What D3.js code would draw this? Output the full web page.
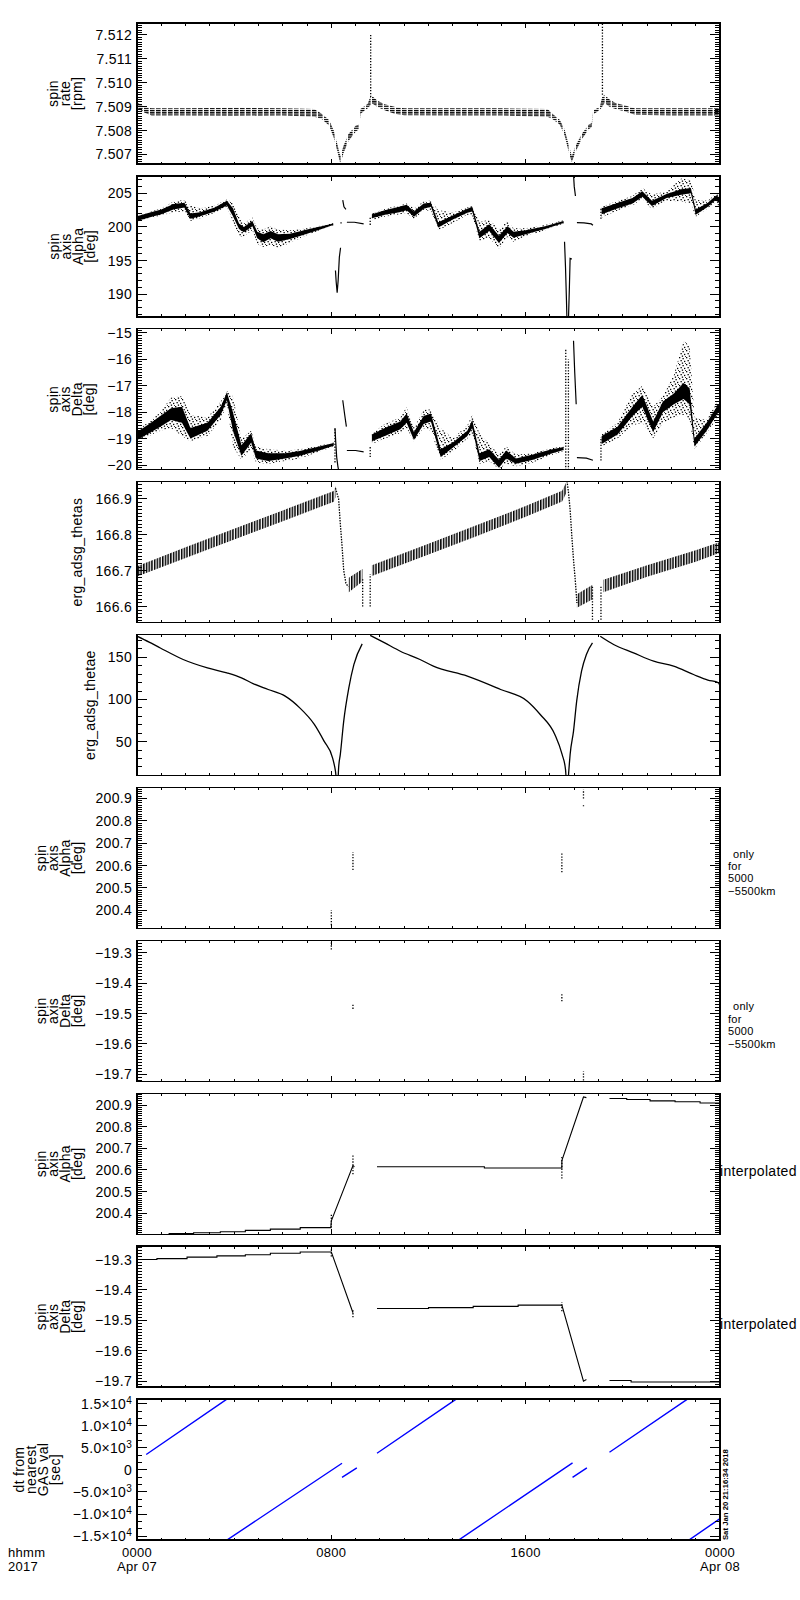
<!DOCTYPE html>
<html>
<head>
<meta charset="utf-8">
<script src="https://cdn.jsdelivr.net/npm/d3@7"></script>
<style>
body { margin: 0; background: #fff; }
svg { display: block; }
</style>
</head>
<body>
<svg id="chart" width="800" height="1600"></svg>
<script>
// time is in hours after 2017-04-07 0000 UT
var xTickHours = [0, 8, 16, 24];
var xTickTime = ["0000", "0800", "1600", "0000"];
var xTickDate = ["Apr 07", "", "", "Apr 08"];

// SPIN RATE [rpm] - envelope of the quantized points
var rateT  = [0, 0.3, 0.6, 2, 4, 6, 7.3, 7.6, 7.9, 8.1, 8.25, 8.37, 8.5, 8.7, 9.0, 9.15, 9.2, 9.5, 9.6, 9.7, 9.9, 10.2, 10.6, 11, 13, 15, 16.9, 17.1, 17.4, 17.6, 17.8, 17.9, 18.05, 18.3, 18.6, 18.72, 18.78, 19.05, 19.15, 19.25, 19.45, 19.7, 20.1, 20.5, 22, 24];
var rateLo = [7.50895, 7.50875, 7.50863, 7.50863, 7.50862, 7.50863, 7.50858, 7.50848, 7.50822, 7.50770, 7.50712, 7.50662, 7.50705, 7.50755, 7.50795, 7.50806, 7.50870, 7.50893, 7.50905, 7.50912, 7.50898, 7.50885, 7.50870, 7.50864, 7.50863, 7.50863, 7.50858, 7.50848, 7.50825, 7.50780, 7.50700, 7.50668, 7.50710, 7.50762, 7.50805, 7.50815, 7.50868, 7.50885, 7.50900, 7.50915, 7.50900, 7.50890, 7.50880, 7.50866, 7.50863, 7.50863];
var rateHi = [7.50918, 7.50900, 7.50893, 7.50893, 7.50895, 7.50893, 7.50890, 7.50870, 7.50845, 7.50800, 7.50742, 7.50692, 7.50735, 7.50785, 7.50820, 7.50825, 7.50890, 7.50912, 7.50940, 7.50942, 7.50925, 7.50910, 7.50900, 7.50893, 7.50893, 7.50893, 7.50890, 7.50870, 7.50845, 7.50805, 7.50730, 7.50692, 7.50735, 7.50785, 7.50825, 7.50830, 7.50885, 7.50898, 7.50940, 7.50950, 7.50930, 7.50915, 7.50905, 7.50893, 7.50893, 7.50893];
var rateSpikeT  = [9.62, 19.16];
var rateSpikeLo = [7.5094, 7.5095];
var rateSpikeHi = [7.5120, 7.5126];

// SPIN AXIS ALPHA [deg] - dense core and scattered points
var alphaT      = [0, 0.5, 1.0, 1.5, 1.95, 2.2, 2.6, 3.2, 3.7, 3.95, 4.2, 4.4, 4.75, 4.95, 5.2, 5.5, 5.8, 6.3, 7.0, 7.6, 8.08, null,
                   9.67, 10.2, 10.8, 11.1, 11.4, 11.8, 12.1, 12.4, 13.0, 13.6, 13.8, 14.1, 14.5, 14.9, 15.25, 15.5, 16.0, 16.8, 17.56, null,
                   19.13, 19.8, 20.4, 20.8, 21.2, 21.8, 22.4, 22.8, 23.0, 23.5, 23.85, 24];
var alphaCoreLo = [200.9, 201.4, 201.9, 202.6, 202.9, 201.2, 201.6, 202.3, 203.2, 201.6, 199.7, 199.2, 200.1, 198.3, 197.7, 198.3, 197.8, 198.2, 199.0, 199.7, 200.3, null,
                   201.3, 201.8, 202.2, 202.5, 201.5, 202.7, 203.0, 199.9, 201.1, 202.1, 202.3, 198.3, 199.4, 197.6, 199.1, 198.4, 198.9, 199.7, 200.6, null,
                   201.9, 202.8, 203.5, 204.5, 203.1, 204.3, 204.8, 205.0, 201.8, 203.0, 204.1, 203.3];
var alphaCoreHi = [201.6, 202.1, 202.6, 203.4, 203.6, 202.0, 202.2, 202.9, 203.9, 202.8, 200.5, 200.0, 200.9, 199.3, 198.9, 199.4, 198.9, 199.0, 199.6, 200.1, 200.5, null,
                   201.9, 202.5, 203.0, 203.3, 202.3, 203.5, 203.6, 200.7, 201.7, 202.7, 203.0, 199.3, 200.4, 198.7, 200.1, 199.3, 199.5, 200.1, 200.9, null,
                   202.8, 203.6, 204.3, 205.3, 203.9, 204.9, 205.6, 205.8, 202.6, 203.6, 204.7, 204.3];
var alphaScatLo = [200.8, 201.3, 201.7, 202.2, 202.3, 200.9, 201.3, 202.1, 203.0, 200.8, 198.5, 198.6, 199.5, 197.5, 197.0, 197.3, 196.9, 197.6, 198.8, 199.6, 200.2, null,
                   201.0, 201.5, 201.9, 202.0, 201.2, 202.4, 202.5, 199.5, 200.6, 201.8, 201.7, 197.9, 198.4, 196.8, 198.5, 197.8, 198.6, 199.5, 200.5, null,
                   201.4, 202.5, 203.2, 204.2, 202.6, 203.9, 203.8, 203.5, 201.5, 202.8, 203.8, 202.5];
var alphaScatHi = [201.7, 202.2, 202.8, 203.8, 204.0, 203.2, 202.8, 203.2, 204.1, 203.6, 201.5, 200.5, 201.4, 199.8, 199.6, 200.1, 199.6, 199.5, 199.8, 200.2, 200.6, null,
                   202.0, 202.7, 203.2, 203.5, 202.8, 203.8, 204.0, 202.5, 202.2, 202.9, 203.1, 200.7, 201.1, 199.6, 200.9, 199.8, 199.8, 200.3, 201.0, null,
                   203.0, 203.9, 204.6, 205.8, 204.8, 205.3, 207.2, 207.0, 204.0, 203.9, 205.0, 204.5];
var alphaLineT = [8.17, 8.2, 8.24, 8.28, 8.33, 8.38, null, 8.47, 8.52, 8.6, null, 8.64, 8.95, 9.33, null,
                  17.6, 17.64, 17.68, 17.7, 17.76, 17.8, 17.83, 17.9, null, 17.97, 18.0, 18.05, null, 18.11, 18.4, 18.7, 18.77];
var alphaLineV = [193.5, 191.8, 190.2, 192.0, 195.5, 196.9, null, 204.0, 203.0, 202.6, null, 200.7, 200.7, 200.45, null,
                  197.8, 194.0, 189.0, 186.0, 186.0, 191.0, 195.3, 195.2, null, 207.8, 206.0, 204.6, null, 200.65, 200.6, 200.45, 200.25];
var alphaDotT  = [9.6, 19.1, 8.4];
var alphaDotLo = [200.3, 201.2, 200.5];
var alphaDotHi = [201.6, 202.7, 200.9];

// SPIN AXIS DELTA [deg]
var deltaT      = [0, 0.5, 0.96, 1.4, 1.85, 2.2, 2.9, 3.45, 3.7, 3.95, 4.3, 4.7, 4.9, 5.4, 6.1, 6.7, 7.5, 8.1, null,
                   9.67, 10.2, 10.84, 11.1, 11.4, 11.8, 12.1, 12.5, 13.0, 13.6, 13.8, 14.1, 14.5, 14.9, 15.2, 15.6, 16.3, 17.0, 17.56, null,
                   19.13, 19.78, 20.4, 20.8, 21.25, 21.65, 22.1, 22.5, 22.75, 22.95, 23.45, 23.9, 24];
var deltaCoreLo = [-19.05, -18.8, -18.55, -18.3, -18.4, -19.0, -18.7, -18.1, -17.55, -18.7, -19.65, -19.15, -19.75, -19.85, -19.75, -19.65, -19.45, -19.27, null,
                   -19.1, -18.9, -18.65, -18.4, -19.05, -18.45, -18.35, -19.7, -19.35, -18.9, -18.6, -19.85, -19.7, -20.1, -19.75, -19.95, -19.8, -19.58, -19.43, null,
                   -19.2, -18.85, -18.15, -17.8, -18.75, -18.0, -17.7, -17.5, -17.7, -19.3, -18.7, -18.05, -18.0];
var deltaCoreHi = [-18.75, -18.45, -18.15, -17.85, -17.8, -18.6, -18.4, -17.8, -17.25, -18.0, -19.25, -18.8, -19.45, -19.55, -19.55, -19.47, -19.3, -19.17, null,
                   -18.85, -18.6, -18.35, -18.05, -18.75, -18.15, -18.05, -19.4, -19.15, -18.7, -18.3, -19.55, -19.4, -19.8, -19.45, -19.75, -19.6, -19.42, -19.32, null,
                   -18.9, -18.55, -17.8, -17.35, -18.35, -17.6, -17.3, -16.9, -17.1, -19.0, -18.4, -17.75, -17.7];
var deltaScatLo = [-19.1, -18.9, -18.7, -18.6, -18.9, -19.1, -18.9, -18.3, -17.7, -19.3, -19.8, -19.4, -19.9, -19.95, -19.85, -19.75, -19.5, -19.3, null,
                   -19.2, -19.0, -18.8, -18.6, -19.1, -18.6, -18.7, -19.8, -19.5, -19.0, -18.8, -19.95, -19.85, -20.15, -19.95, -20.05, -19.9, -19.65, -19.47, null,
                   -19.3, -19.0, -18.5, -18.4, -19.0, -18.4, -18.2, -18.1, -18.3, -19.4, -18.8, -18.2, -18.3];
var deltaScatHi = [-18.7, -18.35, -18.0, -17.45, -17.4, -18.1, -18.2, -17.6, -17.2, -17.4, -19.0, -18.7, -19.3, -19.4, -19.45, -19.4, -19.27, -19.15, null,
                   -18.8, -18.45, -18.2, -17.8, -18.6, -17.9, -17.9, -18.6, -19.0, -18.5, -18.1, -18.8, -19.2, -19.6, -19.3, -19.6, -19.55, -19.37, -19.3, null,
                   -18.85, -18.4, -17.3, -17.0, -17.8, -17.4, -16.6, -15.3, -15.5, -18.2, -18.3, -17.6, -17.6];
var deltaLineT = [8.15, 8.18, 8.22, 8.27, 8.32, null, 8.47, 8.55, 8.62, null, 8.64, 9.0, 9.33, null,
                  17.97, 18.02, 18.08, null, 18.11, 18.5, 18.77];
var deltaLineV = [-18.6, -19.1, -19.7, -20.05, -20.3, null, -17.55, -18.1, -18.55, null, -19.45, -19.45, -19.5, null,
                  -15.3, -16.5, -17.7, null, -19.72, -19.74, -19.82];
var deltaDotT  = [9.6, 19.1, 8.15, 17.65, 17.76];
var deltaDotLo = [-19.7, -19.83, -19.9, -20.3, -20.3];
var deltaDotHi = [-19.32, -18.94, -18.6, -15.6, -16.0];

// ERG_ADSG_THETAS - band of the fast sawtooth
var thetasT  = [0, 2, 4, 6, 8.1, 8.17, null, 8.72, 9.28, null, 9.67, 12, 14, 16, 17.5, 17.7, null, 18.11, 18.74, null, 19.2, 21, 23, 24];
var thetasLo = [166.684, 166.735, 166.787, 166.838, 166.892, 166.905, null, 166.64, 166.67, null, 166.685, 166.745, 166.797, 166.85, 166.893, 166.92, null, 166.597, 166.62, null, 166.64, 166.683, 166.725, 166.75];
var thetasHi = [166.712, 166.765, 166.817, 166.868, 166.922, 166.935, null, 166.68, 166.705, null, 166.715, 166.775, 166.827, 166.88, 166.923, 166.95, null, 166.634, 166.66, null, 166.675, 166.715, 166.757, 166.78];
var thetasDropT = [8.17, 8.3, 8.37, 8.44, 8.51, 8.6, 8.7, null, 17.7, 17.76, 17.83, 17.9, 17.97, 18.04, 18.11];
var thetasDropV = [166.93, 166.9, 166.83, 166.77, 166.70, 166.665, 166.655, null, 166.95, 166.92, 166.87, 166.796, 166.73, 166.675, 166.61];
var thetasDotT  = [9.29, 9.6, 18.75, 19.1];
var thetasDotLo = [166.6, 166.6, 166.563, 166.563];
var thetasDotHi = [166.68, 166.69, 166.66, 166.66];

// ERG_ADSG_THETAE
var thetaeT = [0, 0.5, 0.96, 1.9, 2.9, 3.7, 4.3, 4.8, 5.4, 6.1, 6.7, 7.3, 7.7, 8.05, 8.17, 8.22, 8.27, 8.3, 8.37, 8.51, 8.72, 8.93, 9.27, null,
               9.6, 10.2, 10.84, 11.65, 12.2, 13.6, 14.97, 16.07, 16.6, 17.2, 17.5, 17.64, 17.68, 17.74, 17.78, 17.83, 17.97, 18.1, 18.3, 18.5, 18.75, null,
               19.07, 19.62, 20.44, 21.27, 22.09, 22.91, 23.5, 23.94, 24];
var thetaeV = [175, 168, 161, 147.4, 137.4, 131.5, 125.6, 118.5, 111.8, 103.9, 90, 70.4, 50.6, 30.8, 15, 4, 4, 19, 34.8, 74.3, 113.7, 141.5, 165.9, null,
               176, 167, 157.2, 147.4, 139.5, 127.6, 111.8, 98, 82.2, 58.5, 34.8, 17, 4, 4, 17, 34.8, 62.4, 98, 133.5, 153.3, 167, null,
               175, 165.2, 155.2, 145.4, 139.5, 129.6, 123, 119.7, 116];

// SPIN AXIS ALPHA, only for 5000-5500km
var nearAlphaT  = [8.0, 8.89, 17.49, 18.38, 18.38];
var nearAlphaLo = [200.333, 200.58, 200.57, 200.90, 200.865];
var nearAlphaHi = [200.40, 200.66, 200.655, 200.94, 200.87];
// SPIN AXIS DELTA, only for 5000-5500km
var nearDeltaT  = [8.0, 8.89, 17.49, 18.38];
var nearDeltaLo = [-19.29, -19.485, -19.46, -19.72];
var nearDeltaHi = [-19.26, -19.47, -19.435, -19.69];

// SPIN AXIS ALPHA, interpolated
var interpAlphaT = [1.3, 2.33, 2.33, 3.43, 3.43, 4.46, 4.46, 5.49, 5.49, 6.72, 6.72, 7.98, 8.0, 8.89, 8.95, null,
                    9.88, 14.3, 14.3, 17.49, 17.49, 18.38, 18.5, null,
                    19.45, 20.16, 20.16, 21.12, 21.12, 22.15, 22.15, 23.18, 23.18, 24];
var interpAlphaV = [200.305, 200.305, 200.309, 200.309, 200.314, 200.314, 200.32, 200.32, 200.326, 200.326, 200.333, 200.333, 200.364, 200.62, 200.615, null,
                    200.615, 200.615, 200.609, 200.609, 200.643, 200.938, 200.935, null,
                    200.931, 200.931, 200.926, 200.926, 200.92, 200.92, 200.916, 200.916, 200.91, 200.91];
var interpAlphaDotT  = [8.0, 8.89, 17.49];
var interpAlphaDotLo = [200.333, 200.58, 200.56];
var interpAlphaDotHi = [200.40, 200.67, 200.66];

// SPIN AXIS DELTA, interpolated
var interpDeltaT = [0, 0.82, 0.82, 2.06, 2.06, 3.29, 3.29, 4.46, 4.46, 5.49, 5.49, 6.72, 6.72, 8.0, 8.89, null,
                    9.88, 12.0, 12.0, 13.84, 13.84, 15.69, 15.69, 17.49, 18.38, 18.5, null,
                    19.45, 20.34, 20.34, 24];
var interpDeltaV = [-19.3, -19.3, -19.297, -19.297, -19.292, -19.292, -19.288, -19.288, -19.284, -19.284, -19.279, -19.279, -19.275, -19.275, -19.475, null,
                    -19.461, -19.461, -19.458, -19.458, -19.454, -19.454, -19.45, -19.45, -19.70, -19.695, null,
                    -19.698, -19.698, -19.703, -19.703];
var interpDeltaDotT  = [8.0, 8.89, 17.49];
var interpDeltaDotLo = [-19.29, -19.49, -19.47];
var interpDeltaDotHi = [-19.265, -19.465, -19.44];

// DT FROM NEAREST GAS VAL [sec]
var dtT = [0.38, 3.70, null, 3.70, 8.44, null, 8.44, 9.05, null, 9.88, 13.14, null, 13.24, 17.93, null, 17.93, 18.52, null, 19.45, 22.66, null, 22.72, 24];
var dtV = [3490, 16050, null, -15900, 1505, null, -1690, 460, null, 3785, 16050, null, -15900, 1600, null, -1690, 460, null, 4010, 16050, null, -15900, -11035];

var MINUS = "\u2212";

//LAYOUT---------------------------------------------------------------
var left = 137, right = 720, top0 = 23, pitch = 152.9, ph = 141;
var svg = d3.select("#chart")
    .attr("font-family", "'Liberation Sans', Arial, sans-serif")
    .attr("font-size", 14)
    .attr("letter-spacing", 0.3);
svg.append("rect").attr("width", 800).attr("height", 1600).attr("fill", "#fff");
var defs = svg.append("defs");
var x = d3.scaleLinear().domain([0, 24]).range([left, right]);

function addPattern(id, w, h, cells) {
    let p = defs.append("pattern").attr("id", id)
        .attr("patternUnits", "userSpaceOnUse").attr("width", w).attr("height", h);
    cells.forEach(function (c) {
        p.append("rect").attr("x", c[0]).attr("y", c[1]).attr("width", c[2]).attr("height", c[3]).attr("fill", "#000");
    });
}
addPattern("dashrows", 6, 2.2, [[0, 0, 4.6, 1.3]]);
addPattern("stipple", 7, 7, [[0, 0], [3.5, 1], [1.5, 3], [5, 3.8], [2.8, 5.5], [6, 6.2]].map(function (c) { return [c[0], c[1], 1.3, 1.3]; }));
addPattern("vstripes", 2.7, 6, [[0, 0, 1.5, 6]]);

function rows(t, a, b) {
    return t.map(function (d, i) { return { t: d, a: a[i], b: b ? b[i] : null }; });
}

function plain(digits) {
    return function (tx, v) {
        tx.text(v.toFixed(digits).replace("-", MINUS));
    };
}
function sciLabel(tx, v) {
    if (Math.abs(v) < 1e-6) { tx.text("0"); return; }
    let e = Math.floor(Math.log10(Math.abs(v)) + 1e-9);
    let m = Math.abs(v) / Math.pow(10, e);
    tx.text((v < 0 ? MINUS : "") + m.toFixed(1) + "\u00d710");
    tx.append("tspan").attr("dy", "-0.5em").attr("font-size", 10).text(e);
}

function yTicks(dom, major, nMinor) {
    let ms = major / nMinor;
    let lo = Math.min(dom[0], dom[1]), hi = Math.max(dom[0], dom[1]);
    let out = [];
    for (let k = Math.ceil(lo / ms - 1e-6); k <= Math.floor(hi / ms + 1e-6); k++) {
        out.push({ v: k * ms, major: ((k % nMinor) + nMinor) % nMinor === 0 });
    }
    return out;
}

var labAlpha = ["spin", "axis", "Alpha", "[deg]"];
var labDelta = ["spin", "axis", "Delta", "[deg]"];
var noteNear = ["only", "for", "5000", MINUS + "5500km"];
var noteInterp = ["interpolated"];

var panels = [
    { lab: ["spin", "rate", "[rpm]"], dom: [7.5066, 7.5125], major: 0.001, minor: 10, fmt: plain(3),
      bands: [{ t: rateT, lo: rateLo, hi: rateHi, fill: "url(#dashrows)" }],
      dots: [{ t: rateSpikeT, lo: rateSpikeLo, hi: rateSpikeHi }] },
    { lab: labAlpha, dom: [186.6, 207.6], major: 5, minor: 5, fmt: plain(0),
      bands: [{ t: alphaT, lo: alphaScatLo, hi: alphaScatHi, fill: "url(#stipple)" },
              { t: alphaT, lo: alphaCoreLo, hi: alphaCoreHi, fill: "#000" }],
      lines: [{ t: alphaLineT, v: alphaLineV, w: 1.2 }],
      dots: [{ t: alphaDotT, lo: alphaDotLo, hi: alphaDotHi }] },
    { lab: labDelta, dom: [-20.18, -14.85], major: 1, minor: 10, fmt: plain(0),
      bands: [{ t: deltaT, lo: deltaScatLo, hi: deltaScatHi, fill: "url(#stipple)" },
              { t: deltaT, lo: deltaCoreLo, hi: deltaCoreHi, fill: "#000" }],
      lines: [{ t: deltaLineT, v: deltaLineV, w: 1.2 }],
      dots: [{ t: deltaDotT, lo: deltaDotLo, hi: deltaDotHi }] },
    { lab: ["erg_adsg_thetas"], dom: [166.555, 166.948], major: 0.1, minor: 10, fmt: plain(1),
      bands: [{ t: thetasT, lo: thetasLo, hi: thetasHi, fill: "url(#vstripes)" }],
      lines: [{ t: thetasDropT, v: thetasDropV, w: 1.3, dash: "1.5 1.2" }],
      dots: [{ t: thetasDotT, lo: thetasDotLo, hi: thetasDotHi }] },
    { lab: ["erg_adsg_thetae"], dom: [9.7, 176.9], major: 50, minor: 5, fmt: plain(0),
      lines: [{ t: thetaeT, v: thetaeV, w: 1.3, curve: d3.curveMonotoneX }] },
    { lab: labAlpha, dom: [200.318, 200.949], major: 0.1, minor: 10, fmt: plain(1),
      dots: [{ t: nearAlphaT, lo: nearAlphaLo, hi: nearAlphaHi }], note: noteNear },
    { lab: labDelta, dom: [-19.723, -19.26], major: 0.1, minor: 10, fmt: plain(1),
      dots: [{ t: nearDeltaT, lo: nearDeltaLo, hi: nearDeltaHi }], note: noteNear },
    { lab: labAlpha, dom: [200.302, 200.955], major: 0.1, minor: 10, fmt: plain(1),
      lines: [{ t: interpAlphaT, v: interpAlphaV, w: 1.1 }],
      dots: [{ t: interpAlphaDotT, lo: interpAlphaDotLo, hi: interpAlphaDotHi }], note: noteInterp },
    { lab: labDelta, dom: [-19.72, -19.256], major: 0.1, minor: 10, fmt: plain(1),
      lines: [{ t: interpDeltaT, v: interpDeltaV, w: 1.1 }],
      dots: [{ t: interpDeltaDotT, lo: interpDeltaDotLo, hi: interpDeltaDotHi }], note: noteInterp },
    { lab: ["dt from", "nearest", "GAS val", "[sec]"], dom: [-15900, 16050], major: 5000, minor: 3, fmt: sciLabel,
      lines: [{ t: dtT, v: dtV, w: 1.4, color: "#0000ff" }] }
];

//DRAW EACH PANEL-------------------------------------------------------
panels.forEach(function (p, i) {
    let y0 = top0 + i * pitch;
    let y = d3.scaleLinear().domain(p.dom).range([y0 + ph, y0]);
    let g = svg.append("g");

    defs.append("clipPath").attr("id", "clip" + i).append("rect")
        .attr("x", left).attr("y", y0).attr("width", right - left).attr("height", ph);
    let plot = g.append("g").attr("clip-path", "url(#clip" + i + ")");

    (p.bands || []).forEach(function (b) {
        let area = d3.area()
            .defined(function (d) { return d.t !== null; })
            .x(function (d) { return x(d.t); })
            .y0(function (d) { return y(d.a); })
            .y1(function (d) { return y(d.b); });
        plot.append("path").datum(rows(b.t, b.lo, b.hi)).attr("d", area).attr("fill", b.fill);
    });

    (p.lines || []).forEach(function (l) {
        let line = d3.line()
            .defined(function (d) { return d.t !== null && d.a !== null; })
            .x(function (d) { return x(d.t); })
            .y(function (d) { return y(d.a); });
        if (l.curve) line.curve(l.curve);
        plot.append("path").datum(rows(l.t, l.v)).attr("d", line)
            .attr("fill", "none")
            .attr("stroke", l.color || "#000")
            .attr("stroke-width", l.w || 1)
            .attr("stroke-dasharray", l.dash || null);
    });

    (p.dots || []).forEach(function (s) {
        plot.selectAll(null).data(rows(s.t, s.lo, s.hi)).enter().append("line")
            .attr("x1", function (d) { return x(d.t); })
            .attr("x2", function (d) { return x(d.t); })
            .attr("y1", function (d) { return y(d.a); })
            .attr("y2", function (d) { return y(d.b); })
            .attr("stroke", "#000").attr("stroke-width", 1.3).attr("stroke-dasharray", "1.3 1.6");
    });

    //FRAME AND TICKS
    let axis = g.append("g").attr("stroke", "#000").attr("shape-rendering", "crispEdges");
    axis.append("rect").attr("x", left).attr("y", y0).attr("width", right - left).attr("height", ph)
        .attr("fill", "none").attr("stroke-width", 1.4);
    d3.range(0, 25).forEach(function (h) {
        let len = h % 8 === 0 ? 5 : 2.5;
        axis.append("line").attr("x1", x(h)).attr("x2", x(h)).attr("y1", y0 + ph).attr("y2", y0 + ph - len);
        axis.append("line").attr("x1", x(h)).attr("x2", x(h)).attr("y1", y0).attr("y2", y0 + len);
    });
    let tk = yTicks(p.dom, p.major, p.minor);
    tk.forEach(function (t) {
        let len = t.major ? 10 : 5;
        let yy = y(t.v);
        axis.append("line").attr("x1", left).attr("x2", left + len).attr("y1", yy).attr("y2", yy);
        axis.append("line").attr("x1", right - len).attr("x2", right).attr("y1", yy).attr("y2", yy);
    });

    //TICK LABELS
    let maxW = 0;
    tk.filter(function (t) { return t.major; }).forEach(function (t) {
        let tx = g.append("text").attr("x", left - 5).attr("y", y(t.v)).attr("dy", "0.36em").attr("text-anchor", "end");
        p.fmt(tx, t.v);
        maxW = Math.max(maxW, tx.node().getBBox().width);
    });

    //Y TITLE (rotated lines, last one next to the labels)
    let cy = y0 + ph / 2;
    let n = p.lab.length;
    p.lab.forEach(function (s, j) {
        let bx = left - 5 - maxW - 13 - (n - 1 - j) * 12;
        g.append("text").attr("transform", "translate(" + bx + "," + cy + ") rotate(-90)")
            .attr("text-anchor", "middle").text(s);
    });

    //RIGHT NOTE
    if (p.note) {
        let near = p.note.length > 1;
        p.note.forEach(function (s, j) {
            g.append("text")
                .attr("x", near ? (j === 0 ? 733 : 728) : 720)
                .attr("y", y0 + (near ? 70 : 83) + j * 12.4)
                .attr("font-size", near ? 11 : 14)
                .text(s);
        });
    }
});

//TIME AXIS LABELS--------------------------------------------------------
var yb = top0 + 9 * pitch + ph;
xTickHours.forEach(function (h, i) {
    svg.append("text").attr("x", x(h)).attr("y", yb + 16.5).attr("text-anchor", "middle").attr("font-size", 13).text(xTickTime[i]);
    svg.append("text").attr("x", x(h)).attr("y", yb + 31).attr("text-anchor", "middle").attr("font-size", 13).text(xTickDate[i]);
});
svg.append("text").attr("x", 8).attr("y", yb + 16.5).attr("font-size", 13).text("hhmm");
svg.append("text").attr("x", 8).attr("y", yb + 31).attr("font-size", 13).text("2017");

//TIMESTAMP
svg.append("text").attr("transform", "translate(728," + yb + ") rotate(-90)")
    .attr("font-size", 7).attr("font-weight", "bold").attr("letter-spacing", 0)
    .attr("textLength", 91).attr("lengthAdjust", "spacingAndGlyphs")
    .text("Sat Jan 20 21:16:34 2018");
</script>
</body>
</html>
